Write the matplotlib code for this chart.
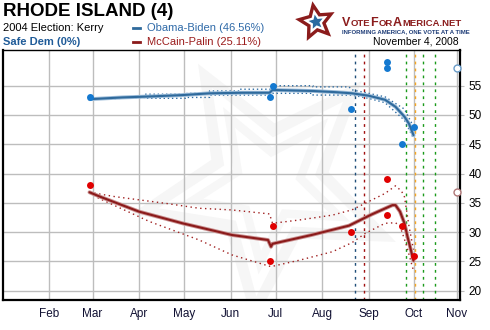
import numpy as np
import pandas as pd
import matplotlib
matplotlib.use("Agg")
import matplotlib.pyplot as plt
import matplotlib.dates as mdates
from matplotlib.patches import Polygon

plt.rcParams['font.family'] = ['Liberation Sans', 'DejaVu Sans']

# ---------------- data ----------------
title = "RHODE ISLAND (4)"
obama_label = "Obama-Biden (46.56%)"
mccain_label = "McCain-Palin (25.11%)"

obama_poll_dates = ["2008-02-28", "2008-06-27", "2008-06-29", "2008-08-20",
                    "2008-09-13", "2008-09-13", "2008-09-23", "2008-10-01"]
obama_poll_vals = [53, 53, 55, 51, 59, 58, 45, 48]
mccain_poll_dates = ["2008-02-28", "2008-06-27", "2008-06-29", "2008-08-20",
                     "2008-09-13", "2008-09-13", "2008-09-23", "2008-10-01"]
mccain_poll_vals = [38, 25, 31, 30, 39, 33, 31, 26]

obama_trend_dates = ["2008-02-28", "2008-03-21", "2008-04-12", "2008-04-30", "2008-05-18",
                     "2008-06-09", "2008-06-27", "2008-06-29", "2008-07-26", "2008-08-10",
                     "2008-08-21", "2008-09-01", "2008-09-12", "2008-09-19", "2008-09-25",
                     "2008-09-28", "2008-10-01"]
obama_trend_vals = [52.7, 53.0, 53.2, 53.4, 53.7, 53.8, 53.8, 54.27, 54.1, 53.9,
                    53.7, 53.3, 52.6, 51.4, 49.7, 48.5, 46.56]

obama_upper_dates = ["2008-02-28", "2008-04-05", "2008-04-05", "2008-05-03", "2008-05-03",
                     "2008-05-18", "2008-05-18", "2008-06-07", "2008-06-07", "2008-06-28",
                     "2008-06-29", "2008-07-26", "2008-07-26", "2008-08-19", "2008-08-21",
                     "2008-09-01", "2008-09-12", "2008-09-25", "2008-10-01"]
obama_upper_vals = [52.75, 53.1, 53.55, 53.55, 53.7, 53.7, 54.1, 54.1, 54.4, 54.4,
                    55.0, 55.0, 54.8, 54.8, 54.3, 53.7, 53.1, 51.0, 48.0]
obama_lower_dates = ["2008-02-28", "2008-04-05", "2008-04-05", "2008-05-03", "2008-05-03",
                     "2008-05-18", "2008-05-18", "2008-06-27", "2008-06-29", "2008-07-26",
                     "2008-07-26", "2008-08-21", "2008-09-01", "2008-09-12", "2008-09-25",
                     "2008-10-01"]
obama_lower_vals = [52.65, 53.0, 52.85, 52.85, 53.0, 53.0, 53.4, 53.4, 53.7, 53.7,
                    53.4, 53.4, 52.85, 52.1, 49.1, 46.0]

mccain_trend_dates = ["2008-02-28", "2008-03-06", "2008-04-01", "2008-04-30", "2008-06-02",
                      "2008-06-26", "2008-06-28", "2008-06-29", "2008-07-25", "2008-08-19",
                      "2008-09-03", "2008-09-17", "2008-09-19", "2008-09-22", "2008-09-25",
                      "2008-09-27", "2008-09-29", "2008-10-01"]
mccain_trend_vals = [36.8, 36.05, 33.5, 31.5, 29.5, 28.65, 27.5, 28.0, 29.5, 31.1,
                     33.0, 34.6, 34.6, 33.5, 31.5, 29.2, 27.2, 25.11]

mccain_upper_dates = ["2008-02-28", "2008-03-16", "2008-04-19", "2008-05-11", "2008-06-02",
                      "2008-06-27", "2008-06-29", "2008-07-17", "2008-08-08", "2008-08-21",
                      "2008-09-12", "2008-09-19", "2008-09-23", "2008-09-25", "2008-09-28",
                      "2008-10-01"]
mccain_upper_vals = [36.8, 36.05, 34.9, 34.07, 33.78, 33.1, 31.5, 32.07, 32.9, 33.8,
                     36.6, 37.9, 37.0, 36.0, 31.0, 27.0]
mccain_lower_dates = ["2008-02-28", "2008-03-05", "2008-04-08", "2008-05-11", "2008-06-02",
                      "2008-06-24", "2008-06-28", "2008-07-17", "2008-08-08", "2008-08-21",
                      "2008-08-30", "2008-09-12", "2008-09-19", "2008-09-22", "2008-09-26",
                      "2008-10-01"]
mccain_lower_vals = [36.8, 35.8, 31.8, 28.66, 26.1, 24.4, 24.1, 25.2, 26.65, 28.2,
                     29.8, 31.5, 31.6, 31.0, 28.0, 23.4]

end_date = ["2008-10-30"]
obama_end_val = [58.0]
mccain_end_val = [36.9]

event_dates = ["2008-08-23", "2008-08-29", "2008-09-26", "2008-10-02", "2008-10-07", "2008-10-15"]
event_colors = ["#1f4e79", "#a01010", "#1a9a1a", "#f5a623", "#1a9a1a", "#1a9a1a"]

month_ticks = ["2008-02-01", "2008-03-01", "2008-04-01", "2008-05-01", "2008-06-01",
               "2008-07-01", "2008-08-01", "2008-09-01", "2008-10-01", "2008-10-30"]
month_labels = ["Feb", "Mar", "Apr", "May", "Jun", "Jul", "Aug", "Sep", "Oct", "Nov"]
y_ticks = [20, 25, 30, 35, 40, 45, 50, 55]


def d(lst):
    return mdates.date2num(pd.to_datetime(lst).to_pydatetime())


# ---------------- figure ----------------
W, H = 490, 330
fig = plt.figure(figsize=(W / 100, H / 100), dpi=100)
fig.patch.set_facecolor("white")
AX0, AY0, AX1, AY1 = 2.5, 50, 460, 300
ax = fig.add_axes([AX0 / W, 1 - AY1 / H, (AX1 - AX0) / W, (AY1 - AY0) / H])
ax.set_xlim(d(["2008-01-01"])[0], d(["2008-11-01"])[0])
ax.set_ylim(18.4, 61.1)


def star(R, r, ang0):
    pts = []
    for k in range(10):
        a = np.deg2rad(ang0 + 36 * k)
        rr = R if k % 2 == 0 else r
        pts.append((rr * np.cos(a), rr * np.sin(a)))
    return pts


def star_axes(cx, cy, R, r, ang0):
    return [((cx + x - AX0) / (AX1 - AX0), 1 - ((cy - y) - AY0) / (AY1 - AY0))
            for x, y in star(R, r, ang0)]


# faint watermark star
ax.add_patch(Polygon(star_axes(268, 185, 140, 62, 120), closed=True, transform=ax.transAxes,
                     facecolor="#f6f6f6", edgecolor="none", zorder=0))
ax.add_patch(Polygon(star_axes(268, 185, 112, 48, 120), closed=True, transform=ax.transAxes,
                     facecolor="white", edgecolor="none", zorder=0))
ax.add_patch(Polygon(star_axes(268, 185, 90, 38, 120), closed=True, transform=ax.transAxes,
                     facecolor="#f7f7f7", edgecolor="none", zorder=0))
ax.add_patch(Polygon(star_axes(268, 185, 66, 28, 120), closed=True, transform=ax.transAxes,
                     facecolor="white", edgecolor="none", zorder=0))

# grid & ticks
ax.set_xticks(d(month_ticks))
ax.set_xticklabels(month_labels)
ax.set_yticks(y_ticks)
ax.grid(True, color="#bdbdbd", linewidth=1, zorder=1)
ax.set_axisbelow(True)

ax.yaxis.tick_right()
ax.tick_params(axis="y", length=3, color="#bdbdbd", pad=3, labelsize=8.5, labelcolor="black")
ax.tick_params(axis="x", length=0, pad=6, labelsize=8.5, labelcolor="#111133")

for s in ["left", "bottom", "right"]:
    ax.spines[s].set_linewidth(1.6)
    ax.spines[s].set_color("black")
ax.spines["top"].set_linewidth(1.0)

# event lines
for ed, ec in zip(d(event_dates), event_colors):
    ax.axvline(ed, color=ec, linewidth=1.0, linestyle=(0, (2, 3)), zorder=2)

# bands
ax.plot(d(obama_upper_dates), obama_upper_vals, color="#2e6da4", lw=1.0,
        linestyle=(0, (1, 2)), zorder=3)
ax.plot(d(obama_lower_dates), obama_lower_vals, color="#2e6da4", lw=1.0,
        linestyle=(0, (1, 2)), zorder=3)
ax.plot(d(mccain_upper_dates), mccain_upper_vals, color="#a02020", lw=1.0,
        linestyle=(0, (1, 2.5)), zorder=3)
ax.plot(d(mccain_lower_dates), mccain_lower_vals, color="#a02020", lw=1.0,
        linestyle=(0, (1, 2.5)), zorder=3)

# trends
ax.plot(d(obama_trend_dates), obama_trend_vals, color="#9dbdda", lw=2.8, zorder=4,
        solid_capstyle="round", solid_joinstyle="round")
ax.plot(d(obama_trend_dates), obama_trend_vals, color="#2f6a9c", lw=1.5, zorder=5,
        solid_capstyle="round", solid_joinstyle="round")
ax.plot(d(mccain_trend_dates), mccain_trend_vals, color="#c99090", lw=2.8, zorder=4,
        solid_capstyle="round", solid_joinstyle="round")
ax.plot(d(mccain_trend_dates), mccain_trend_vals, color="#8b1a1a", lw=1.5, zorder=5,
        solid_capstyle="round", solid_joinstyle="round")

# polls
ax.plot(d(obama_poll_dates), obama_poll_vals, "o", color="#1479d0", ms=5, mec="none", zorder=6)
ax.plot(d(mccain_poll_dates), mccain_poll_vals, "o", color="#e00000", ms=5, mec="none", zorder=6)

# end markers
ax.plot(d(end_date), obama_end_val, "o", mfc="white", mec="#6a9cc8", ms=5, mew=1, zorder=6,
        clip_on=False)
ax.plot(d(end_date), mccain_end_val, "o", mfc="white", mec="#b07878", ms=5, mew=1, zorder=6,
        clip_on=False)

# ---------------- header text ----------------
def fx(px):
    return px / W


def fy(py):
    return 1 - py / H


fig.text(fx(3), fy(11), title, fontsize=13.5, fontweight="bold", va="center", ha="left",
         color="black")
fig.text(fx(3), fy(28), "2004 Election: Kerry", fontsize=8, va="center", ha="left",
         color="black")
fig.text(fx(3), fy(42), "Safe Dem (0%)", fontsize=8, fontweight="bold", va="center",
         ha="left", color="#1f5b98")

fig.add_artist(plt.Line2D([fx(133), fx(140)], [fy(28), fy(28)], color="#2f6a9c", lw=2))
fig.add_artist(plt.Line2D([fx(133), fx(140)], [fy(42), fy(42)], color="#8b1a1a", lw=2))
fig.text(fx(147), fy(28), obama_label, fontsize=8, va="center", ha="left", color="#2f6aa8")
fig.text(fx(147), fy(42), mccain_label, fontsize=8, va="center", ha="left", color="#9b1c1c")

fig.text(fx(459), fy(41), "November 4, 2008", fontsize=7.5, va="center", ha="right",
         color="black")

# logo star
lx, ly = 316, 22
fig.add_artist(Polygon([(fx(lx + x), fy(ly - y)) for x, y in star(17, 8, 100)],
                       closed=True, facecolor="none", edgecolor="#8b1c1c", lw=2.4,
                       transform=fig.transFigure))
fig.add_artist(Polygon([(fx(lx + x), fy(ly - y)) for x, y in star(7.5, 3.4, 100)],
                       closed=True, facecolor="#2a6aa0", edgecolor="none",
                       transform=fig.transFigure))

# logo text (small caps emulation)
pieces = [("V", 9), ("OTE", 6.8), ("F", 9), ("OR", 6.8), ("A", 9), ("MERICA.NET", 6.8)]
fig.canvas.draw()
renderer = fig.canvas.get_renderer()
x_cursor = 342
for txt, fs in pieces:
    t = fig.text(fx(x_cursor), fy(26), txt, fontsize=fs, fontweight="bold",
                 color="#8b1c1c", va="baseline", ha="left")
    bb = t.get_window_extent(renderer)
    x_cursor = bb.x1 + 0.2

fig.text(fx(342), fy(32), "INFORMING AMERICA, ONE VOTE AT A TIME", fontsize=4.3,
         fontweight="bold", color="#1f3d78", va="center", ha="left")

fig.savefig("out.png", dpi=100, facecolor="white")
